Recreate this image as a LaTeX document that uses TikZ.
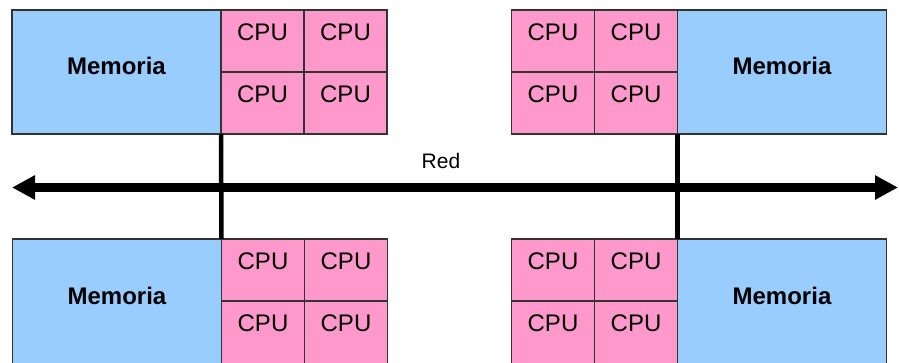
\documentclass[tikz,border=0pt]{standalone}
\usepackage{fontspec}
\setmainfont{Liberation Sans}
\usetikzlibrary{arrows.meta,positioning}
\definecolor{memblue}{HTML}{99CCFF}
\definecolor{cpupink}{HTML}{FF99CC}

\begin{document}
\begin{tikzpicture}[x=1pt,y=-1pt,
 box/.style={draw=black!80,line width=1.2pt,outer sep=0pt,inner sep=0pt},
 mem/.style={box,fill=memblue,minimum width=209pt,minimum height=124pt,
  font=\fontsize{24}{24}\selectfont\bfseries,text height=17pt,text depth=13pt},
 cpu/.style={box,fill=cpupink,minimum width=83pt,minimum height=62pt,
  font=\fontsize{24}{24}\selectfont,text height=17pt,text depth=19pt},
 bus/.style={line width=9pt,{Triangle[length=23pt,width=23pt]}-{Triangle[length=23pt,width=23pt]}},
 link/.style={line width=4.5pt}]
\useasboundingbox (0,0) rectangle (899,362);
\clip (0,0) rectangle (899,362);
% red
\coordinate (busL) at (12,187.5);
\coordinate (busR) at (898,187.5);
\draw[bus] (busL) -- (busR);
\node[font=\fontsize{21}{21}\selectfont] (red) at (441,161) {Red};
% arriba izquierda
\node[mem] (mem1) at (116.5,72) {Memoria};
\node[cpu,anchor=north west] (c1a) at (mem1.north east) {CPU};
\node[cpu,right=0pt of c1a] (c1b) {CPU};
\node[cpu,below=0pt of c1a] (c1c) {CPU};
\node[cpu,right=0pt of c1c] (c1d) {CPU};
% arriba derecha
\node[mem] (mem2) at (782,72) {Memoria};
\node[cpu,anchor=north east] (c2b) at (mem2.north west) {CPU};
\node[cpu,left=0pt of c2b] (c2a) {CPU};
\node[cpu,below=0pt of c2b] (c2d) {CPU};
\node[cpu,left=0pt of c2d] (c2c) {CPU};
% abajo (cortadas por el borde inferior)
\begin{scope}[mem/.append style={minimum height=130pt,text depth=17pt}]
\node[mem] (mem3) at (117,304) {Memoria};
\node[cpu,anchor=north west] (c3a) at (mem3.north east) {CPU};
\node[cpu,right=0pt of c3a] (c3b) {CPU};
\node[cpu,below=0pt of c3a,minimum height=68pt,text depth=25pt] (c3c) {CPU};
\node[cpu,right=0pt of c3c,minimum height=68pt,text depth=25pt] (c3d) {CPU};
\node[mem] (mem4) at (782,304) {Memoria};
\node[cpu,anchor=north east] (c4b) at (mem4.north west) {CPU};
\node[cpu,left=0pt of c4b] (c4a) {CPU};
\node[cpu,below=0pt of c4b,minimum height=68pt,text depth=25pt] (c4d) {CPU};
\node[cpu,left=0pt of c4d,minimum height=68pt,text depth=25pt] (c4c) {CPU};
\end{scope}
% conexiones
\draw[link] (mem1.south east) -- (mem3.north east);
\draw[link] (mem2.south west) -- (mem4.north west);
\end{tikzpicture}
\end{document}
